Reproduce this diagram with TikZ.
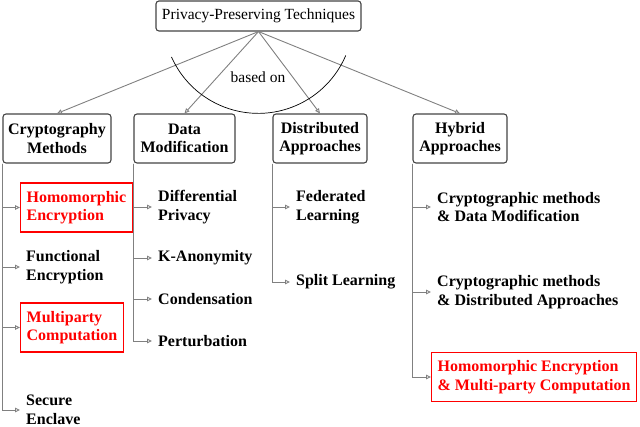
\documentclass[tikz,border=0pt]{standalone}
\usepackage{fontspec}
\setmainfont{Liberation Serif}
\usetikzlibrary{arrows.meta}
\definecolor{boxgray}{HTML}{444444}
\definecolor{linegray}{HTML}{808080}
\definecolor{hired}{HTML}{FF0000}
\tikzset{
  topbox/.style={draw=boxgray, line width=1.1pt, rounded corners=3pt, inner xsep=6pt,
    minimum height=30pt, font=\fontsize{15.5}{18.5}\selectfont},
  catbox/.style={draw=boxgray, line width=1.1pt, rounded corners=3pt, align=center,
    minimum height=49pt, inner xsep=3pt, font=\fontsize{16}{18.5}\selectfont\bfseries},
  leaf/.style={anchor=west, align=left, inner xsep=6pt, inner ysep=8pt,
    font=\fontsize{16}{18.5}\selectfont\bfseries},
  hilite/.style={draw=hired, line width=1.3pt, text=hired},
  tree/.style={draw=linegray, line width=0.9pt, -{Triangle[open, length=5pt, width=4.5pt]}},
  lbl/.style={fill=white, inner sep=2pt, font=\fontsize{15.5}{18.5}\selectfont}
}
\begin{document}
\begin{tikzpicture}[x=1pt, y=1pt]
\useasboundingbox (0,0) rectangle (640,-427);
\node[topbox] (top) at (258.5,-16) {Privacy-Preserving Techniques};
\node[catbox, minimum width=108pt] (crypto) at (57,-138.5) {Cryptography\\Methods};
\node[catbox, minimum width=101pt] (data) at (184.5,-138.5) {Data\\Modification};
\node[catbox, minimum width=94pt] (dist) at (320,-138.5) {Distributed\\Approaches};
\node[catbox, minimum width=94pt] (hyb) at (460,-138.5) {Hybrid\\Approaches};
% arrows from top
\draw[tree] (top.south) -- (crypto.north);
\draw[tree] (top.south) -- (data.north);
\draw[tree] (top.south) -- (dist.north);
\draw[tree] (top.south) -- (hyb.north);
\node[lbl] (based) at (258,-77) {based on};
\draw[black, line width=0.7pt] (171.5,-57) arc[start angle=204, end angle=337, radius=95];
% cryptography children
\node[leaf, hilite] (he) at (20,-207.5) {Homomorphic\\Encryption};
\node[leaf] (fe) at (20,-267) {Functional\\Encryption};
\node[leaf, hilite] (mpc) at (20,-327.5) {Multiparty\\Computation};
\node[leaf] (se) at (20,-410) {Secure\\Enclave};
\foreach \c in {he,fe,mpc,se} \draw[tree] (crypto.south west) |- (\c.west);
% data modification children
\node[leaf] (dp) at (152,-207) {Differential\\Privacy};
\node[leaf] (ka) at (152,-258) {K-Anonymity};
\node[leaf] (co) at (152,-299) {Condensation};
\node[leaf] (pe) at (152,-341) {Perturbation};
\foreach \c in {dp,ka,co,pe} \draw[tree] (data.south west) |- (\c.west);
% distributed children
\node[leaf] (fl) at (290,-207) {Federated\\Learning};
\node[leaf] (sl) at (290,-282) {Split Learning};
\foreach \c in {fl,sl} \draw[tree] (dist.south west) |- (\c.west);
% hybrid children
\node[leaf] (h1) at (431,-207) {Cryptographic methods\\\& Data Modification};
\node[leaf] (h2) at (431,-292) {Cryptographic methods\\\& Distributed Approaches};
\node[leaf, hilite] (h3) at (431,-377) {Homomorphic Encryption\\\& Multi-party Computation};
\foreach \c in {h1,h2,h3} \draw[tree] (hyb.south west) |- (\c.west);
\end{tikzpicture}
\end{document}
